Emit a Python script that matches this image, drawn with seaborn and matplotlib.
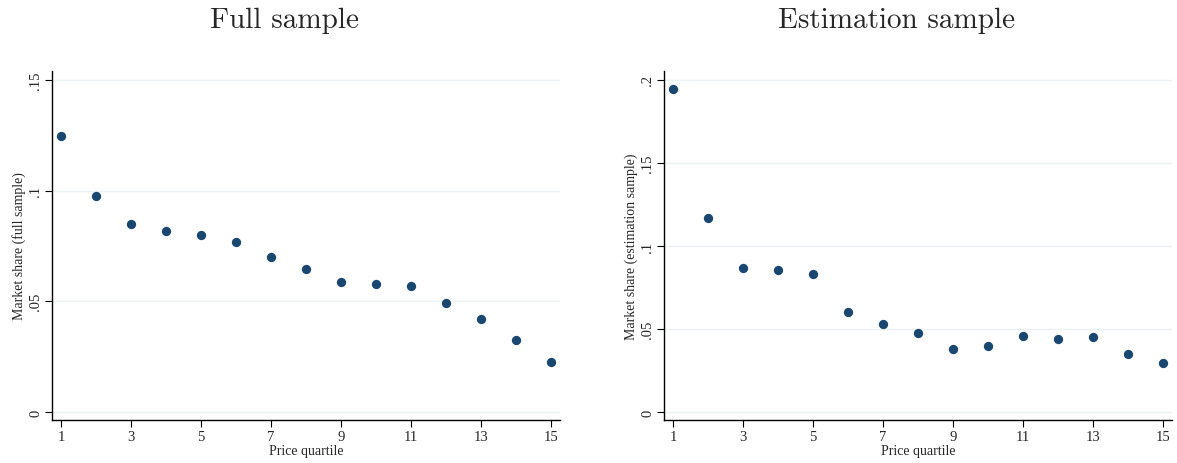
import matplotlib
matplotlib.use("Agg")
import matplotlib.pyplot as plt
import seaborn as sns
import pandas as pd

quartile = list(range(1, 16))
full_share = [0.1247, 0.0976, 0.0849, 0.0818, 0.0800, 0.0768, 0.0700, 0.0646,
              0.0587, 0.0578, 0.0569, 0.0492, 0.0420, 0.0325, 0.0226]
est_share = [0.1945, 0.1168, 0.0867, 0.0855, 0.0831, 0.0602, 0.0530, 0.0476,
             0.0379, 0.0397, 0.0458, 0.0440, 0.0452, 0.0349, 0.0295]
x_ticks = [1, 3, 5, 7, 9, 11, 13, 15]
full_yticks = [0, 0.05, 0.1, 0.15]
full_ylabels = ["0", ".05", ".1", ".15"]
est_yticks = [0, 0.05, 0.1, 0.15, 0.2]
est_ylabels = ["0", ".05", ".1", ".15", ".2"]

sns.set_style("white")
plt.rcParams['font.family'] = ['Liberation Serif', 'DejaVu Serif']

fig = plt.figure(figsize=(11.77, 4.64), dpi=100)
ax1 = fig.add_axes([52/1177, 43/464, 508/1177, 349/464])
ax2 = fig.add_axes([664/1177, 43/464, 508/1177, 349/464])

color = "#1a476f"
panels = [
    (ax1, full_share, full_yticks, full_ylabels, (-0.0036, 0.154), "Market share (full sample)"),
    (ax2, est_share, est_yticks, est_ylabels, (-0.0048, 0.2054), "Market share (estimation sample)"),
]
for ax, vals, yt, yl, ylim, ylab in panels:
    df = pd.DataFrame({"q": quartile, "s": vals})
    for t in yt:
        ax.axhline(t, color="#eaf2f3", lw=1.0, zorder=0)
    sns.scatterplot(data=df, x="q", y="s", ax=ax, color=color, s=45,
                    edgecolor=color, linewidth=0, zorder=3)
    ax.set_xlim(0.74, 15.26)
    ax.set_ylim(*ylim)
    ax.set_xticks(x_ticks)
    ax.set_xticklabels([str(t) for t in x_ticks], fontsize=10.5)
    ax.set_yticks(yt)
    ax.set_yticklabels(yl, fontsize=10.5, rotation=90, va="center")
    ax.set_xlabel("Price quartile", fontsize=10, labelpad=1)
    ax.set_ylabel(ylab, fontsize=10, labelpad=2)
    for sp in ["top", "right"]:
        ax.spines[sp].set_visible(False)
    for sp in ["left", "bottom"]:
        ax.spines[sp].set_color("black")
        ax.spines[sp].set_linewidth(1.0)
    ax.tick_params(axis="both", direction="out", length=5, width=0.8,
                   color="black", left=True, bottom=True, pad=2)
    ax.grid(False)

fig.text(285/1177, 1 - 21/464, "Full sample", ha="center", va="center",
         fontsize=21, family=["cmr10", "DejaVu Serif"])
fig.text(897/1177, 1 - 21/464, "Estimation sample", ha="center", va="center",
         fontsize=21, family=["cmr10", "DejaVu Serif"])

fig.savefig("out.png", dpi=100)
